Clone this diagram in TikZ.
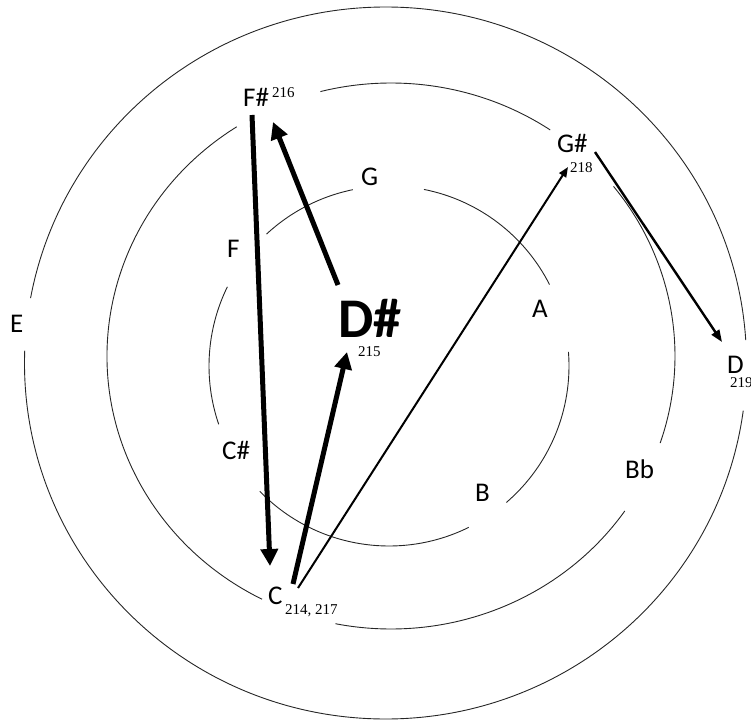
\documentclass[tikz,border=0pt]{standalone}
\usepackage{fontspec}
\setmainfont{Carlito}
\newfontfamily\numfont{Liberation Serif}
\usetikzlibrary{arrows.meta}
\begin{document}
\begin{tikzpicture}[x=1pt,y=1pt,
  ring/.style={line width=0.9pt, black!85},
  lab/.style={anchor=base west, inner sep=0pt, font=\fontsize{27}{30}\selectfont},
  biglab/.style={anchor=base west, inner sep=0pt, font=\bfseries\fontsize{56}{60}\selectfont},
  num/.style={anchor=base west, inner sep=0pt, font=\numfont\fontsize{15}{17}\selectfont},
  heavyarrow/.style={line width=5pt, -{Triangle[length=17pt,width=17pt]}},
  lightarrow/.style={line width=2pt, -{Triangle[length=10pt,width=8pt]}},
  midarrow/.style={line width=2.4pt, -{Triangle[length=12pt,width=9pt]}}]
\useasboundingbox (0,0) rectangle (751,723);
% outer ring
\begin{scope}[shift={(385.5,360)}]
  \draw[ring] (3.7:361 and 356) arc[start angle=3.7, end angle=169.5, x radius=361, y radius=356];
  \draw[ring] (178:361 and 356) arc[start angle=178, end angle=352.3, x radius=361, y radius=356];
\end{scope}
% middle ring
\begin{scope}[shift={(391,367)}]
  \draw[ring] (-18.6:284 and 273) arc[start angle=-18.6, end angle=38.4, x radius=284, y radius=273];
  \draw[ring] (55.9:284 and 273) arc[start angle=55.9, end angle=104.4, x radius=284, y radius=273];
  \draw[ring] (122.9:284 and 273) arc[start angle=122.9, end angle=243, x radius=284, y radius=273];
  \draw[ring] (258.7:284 and 273) arc[start angle=258.7, end angle=325.4, x radius=284, y radius=273];
\end{scope}
% inner ring
\begin{scope}[shift={(389,357)}]
  \draw[ring] (-49.3:180) arc[start angle=-49.3, end angle=4.5, radius=180];
  \draw[ring] (26.9:180) arc[start angle=26.9, end angle=78.8, radius=180];
  \draw[ring] (101.6:180) arc[start angle=101.6, end angle=132.9, radius=180];
  \draw[ring] (153.9:180) arc[start angle=153.9, end angle=198.9, radius=180];
  \draw[ring] (224.1:180) arc[start angle=224.1, end angle=296.3, radius=180];
\end{scope}
% labels
\node[lab] (fs) at (243,616) {F\#};
\node[num] (n216) at (272,625) {216};
\node[lab] (gs) at (557,570) {G\#};
\node[num] (n218) at (570,550) {218};
\node[lab] (g) at (361,537) {G};
\node[lab] (f) at (227,465) {F};
\node[lab] (e) at (10,390) {E};
\node[lab] (a) at (532,405) {A};
\node[lab] (cs) at (222,264) {C\#};
\node[lab] (b) at (475,222) {B};
\node[lab] (bb) at (625,245) {Bb};
\node[lab] (c) at (268,119) {C};
\node[num] (n214) at (285,109) {214, 217};
\node[lab] (d) at (727,349) {D};
\node[num] (n219) at (730,335) {219};
\node[biglab] (ds) at (338,385) {D\#};
\node[num] (n215) at (358,366) {215};
% connector ends
\coordinate (fs-out) at (252,608);
\coordinate (c-in) at (270,157);
\coordinate (ds-out) at (338,438);
\coordinate (fs-in) at (273,601);
\coordinate (c-out1) at (293,139);
\coordinate (ds-in) at (347,371);
\coordinate (c-out2) at (298,135);
\coordinate (gs-in) at (568,556);
\coordinate (gs-out) at (595,571);
\coordinate (d-in) at (722,381);
% connectors
\draw[heavyarrow] (fs-out) -- (c-in);
\draw[heavyarrow] (ds-out) -- (fs-in);
\draw[heavyarrow] (c-out1) -- (ds-in);
\draw[lightarrow] (c-out2) -- (gs-in);
\draw[midarrow] (gs-out) -- (d-in);
\end{tikzpicture}
\end{document}
